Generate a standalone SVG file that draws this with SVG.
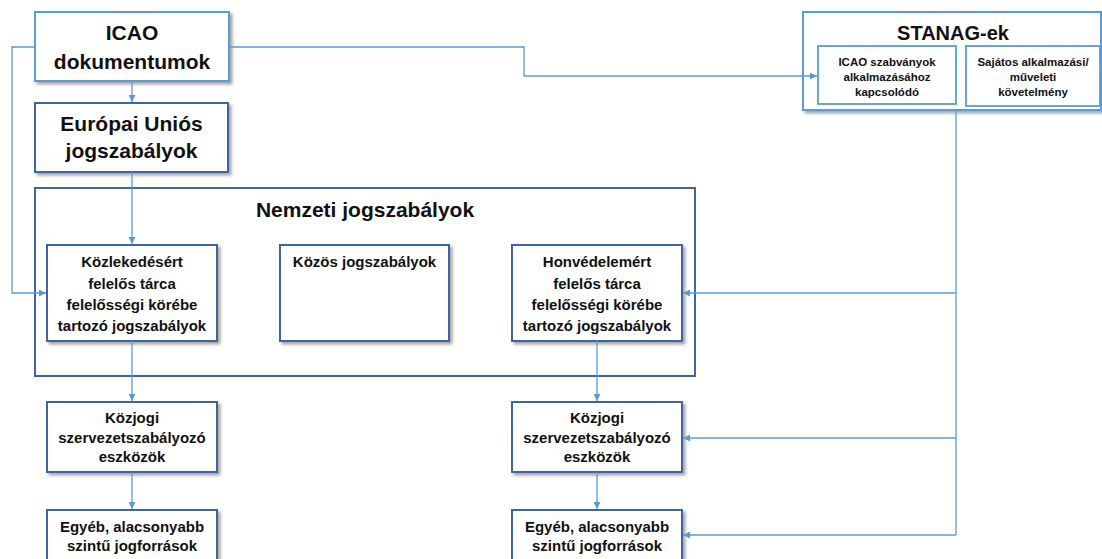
<svg xmlns="http://www.w3.org/2000/svg" width="1102" height="559" viewBox="0 0 1102 559">
<defs>
<filter id="sh" x="-10%" y="-10%" width="130%" height="130%">
<feDropShadow dx="2.5" dy="2.5" stdDeviation="1.5" flood-color="#000" flood-opacity="0.35"/>
</filter>
<marker id="ar" viewBox="0 0 10 10" refX="10" refY="5" markerWidth="7" markerHeight="7" markerUnits="userSpaceOnUse" orient="auto">
<path d="M0,0 L10,5 L0,10 z" fill="#5B9BD5"/>
</marker>
</defs>
<style>
.light{fill:#fff;stroke:#5B9BD5;stroke-width:2}
.dark{fill:#fff;stroke:#3F64A2;stroke-width:2}
.inner{fill:#fff;stroke:#5B9BD5;stroke-width:1.8}
.con{fill:none;stroke:#5B9BD5;stroke-width:1.3;marker-end:url(#ar)}
.conn{fill:none;stroke:#5B9BD5;stroke-width:1.3}
text{font-family:"Liberation Sans",Arial,sans-serif;font-weight:bold;fill:#111;text-anchor:middle}
.t21{font-size:21px}
.t20{font-size:20px}
.t15{font-size:15px}
.t11{font-size:11.5px}
</style>
<rect width="1102" height="559" fill="#fff"/>

<g id="nemzeti">
<rect class="dark" x="35" y="188" width="660" height="188"/>
<text class="t21" x="365" y="217">Nemzeti jogszabályok</text>
</g>

<g id="icao">
<rect class="light" x="35" y="12" width="194" height="69" filter="url(#sh)"/>
<text class="t21" x="132" y="40">ICAO</text>
<text class="t21" x="132" y="69">dokumentumok</text>
</g>

<g id="eu">
<rect class="dark" x="35" y="103" width="193" height="69" filter="url(#sh)"/>
<text class="t21" x="131.5" y="131">Európai Uniós</text>
<text class="t21" x="131.5" y="158">jogszabályok</text>
</g>

<g id="kozlekedes">
<rect class="dark" x="47" y="245" width="170" height="96" filter="url(#sh)"/>
<text class="t15" x="132" y="267">Közlekedésért</text>
<text class="t15" x="132" y="289">felelős tárca</text>
<text class="t15" x="132" y="310">felelősségi körébe</text>
<text class="t15" x="132" y="331">tartozó jogszabályok</text>
</g>

<g id="kozos">
<rect class="dark" x="280" y="245" width="169" height="96" filter="url(#sh)"/>
<text class="t15" x="364.5" y="267">Közös jogszabályok</text>
</g>

<g id="honved">
<rect class="dark" x="512" y="245" width="170" height="96" filter="url(#sh)"/>
<text class="t15" x="597" y="267">Honvédelemért</text>
<text class="t15" x="597" y="289">felelős tárca</text>
<text class="t15" x="597" y="310">felelősségi körébe</text>
<text class="t15" x="597" y="331">tartozó jogszabályok</text>
</g>

<g id="kozjogi-left">
<rect class="dark" x="47" y="402" width="170" height="70" filter="url(#sh)"/>
<text class="t15" x="132" y="423">Közjogi</text>
<text class="t15" x="132" y="443">szervezetszabályozó</text>
<text class="t15" x="132" y="462">eszközök</text>
</g>

<g id="egyeb-left">
<rect class="dark" x="47" y="510" width="170" height="60" filter="url(#sh)"/>
<text class="t15" x="132" y="532">Egyéb, alacsonyabb</text>
<text class="t15" x="132" y="551">szintű jogforrások</text>
</g>

<g id="kozjogi-right">
<rect class="dark" x="512" y="402" width="170" height="70" filter="url(#sh)"/>
<text class="t15" x="597" y="423">Közjogi</text>
<text class="t15" x="597" y="443">szervezetszabályozó</text>
<text class="t15" x="597" y="462">eszközök</text>
</g>

<g id="egyeb-right">
<rect class="dark" x="512" y="510" width="170" height="60" filter="url(#sh)"/>
<text class="t15" x="597" y="532">Egyéb, alacsonyabb</text>
<text class="t15" x="597" y="551">szintű jogforrások</text>
</g>

<g id="stanag">
<rect class="light" x="803" y="12" width="298" height="98" filter="url(#sh)"/>
<text class="t20" x="953" y="40">STANAG-ek</text>
</g>

<g id="stanag-icao">
<rect class="inner" x="818" y="46" width="138" height="58"/>
<text class="t11" x="887" y="66">ICAO szabványok</text>
<text class="t11" x="887" y="81">alkalmazásához</text>
<text class="t11" x="887" y="96">kapcsolódó</text>
</g>

<g id="stanag-sajatos">
<rect class="inner" x="966" y="46" width="134" height="60"/>
<text class="t11" x="1033" y="66">Sajátos alkalmazási/</text>
<text class="t11" x="1033" y="81">műveleti</text>
<text class="t11" x="1033" y="96">követelmény</text>
</g>

<g id="connectors">
<path class="con" d="M35,47 H12 V293 H46"/>
<path class="con" d="M229,47 H524 V76 H817"/>
<path class="con" d="M132,81 V102"/>
<path class="con" d="M132,172 V244"/>
<path class="con" d="M132,341 V401"/>
<path class="con" d="M132,472 V509"/>
<path class="con" d="M597,341 V401"/>
<path class="con" d="M597,472 V509"/>
<path class="conn" d="M956,111 V535"/>
<path class="con" d="M956,293 H683"/>
<path class="con" d="M956,438 H683"/>
<path class="con" d="M956,535 H683"/>
</g>
</svg>
